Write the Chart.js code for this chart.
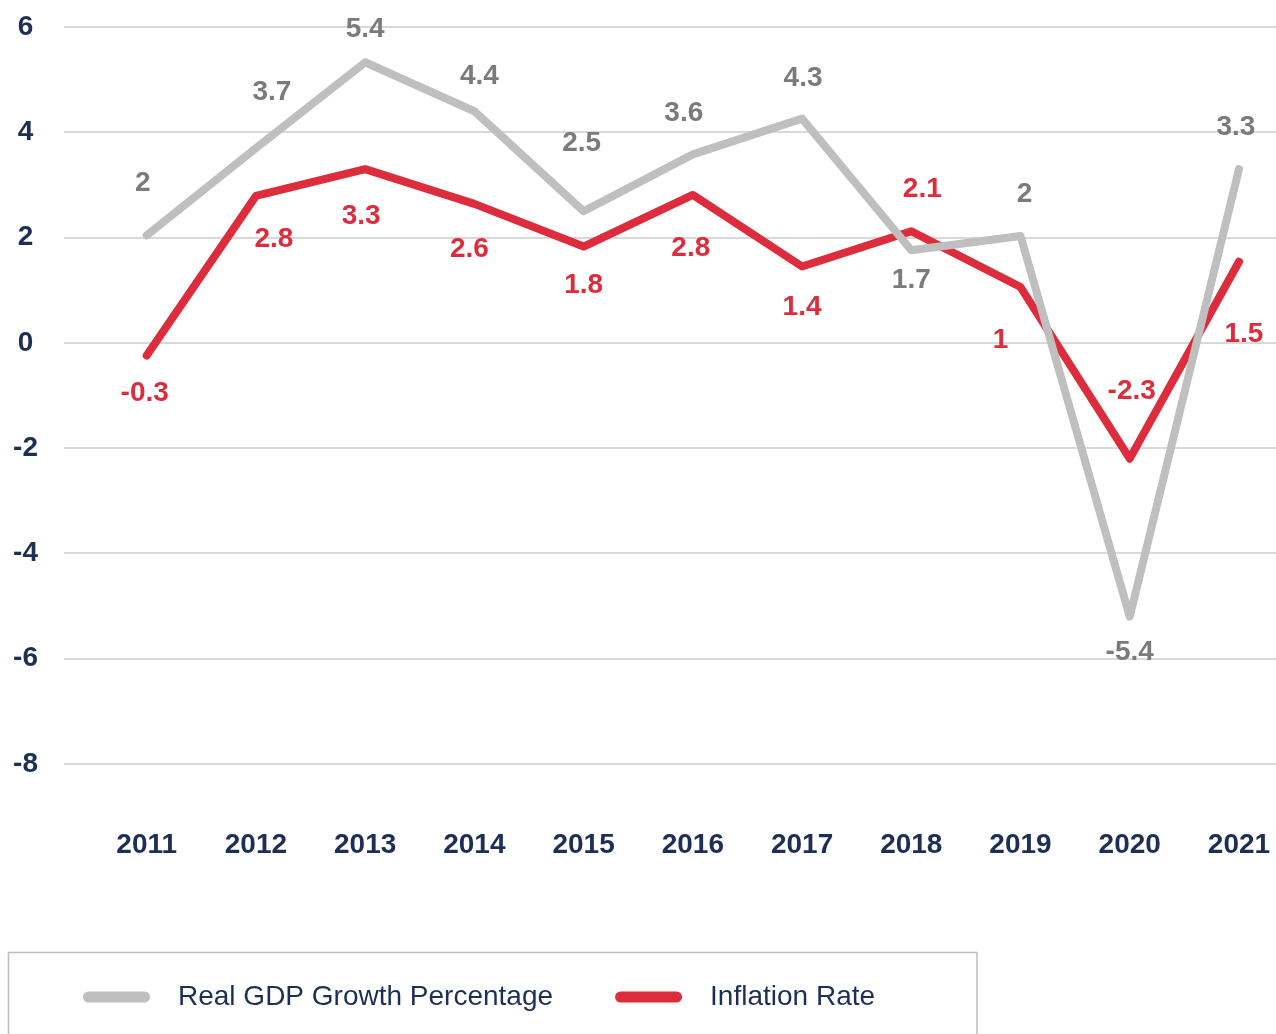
<!DOCTYPE html>
<html>
<head>
<meta charset="utf-8">
<script src="https://cdn.jsdelivr.net/npm/chart.js@4.4.1/dist/chart.umd.min.js"></script>
<style>
  html, body { margin: 0; padding: 0; background: #fff; }
  #wrap { width: 1276px; height: 1034px; }
</style>
</head>
<body>
<div id="wrap"><canvas id="gdpChart" width="1276" height="1034"></canvas></div>
<script>
// years on the x axis
const years = ['2011', '2012', '2013', '2014', '2015', '2016', '2017', '2018', '2019', '2020', '2021'];

const gdpValues = [2.04, 3.7, 5.33, 4.4, 2.5, 3.58, 4.26, 1.76, 2.03, -5.2, 3.3];
const inflationValues = [-0.24, 2.79, 3.3, 2.64, 1.83, 2.81, 1.45, 2.12, 1.06, -2.2, 1.54];

// value labels as printed on the chart
const gdpLabels = ['2', '3.7', '5.4', '4.4', '2.5', '3.6', '4.3', '1.7', '2', '-5.4', '3.3'];
const inflationLabels = ['-0.3', '2.8', '3.3', '2.6', '1.8', '2.8', '1.4', '2.1', '1', '-2.3', '1.5'];

const yTicks = [-8, -6, -4, -2, 0, 2, 4, 6];

const NAVY = '#1d2f55';
const GREY = '#bfbfbf';
const RED = '#dd2c3b';
const FONT = '"Liberation Sans", Arial, Helvetica, sans-serif';

// label nudges in px relative to each point [dx, dy]
const labelNudges = {
    0: [[-4, -52], [16, -56], [0, -33], [5, -35], [-2, -68], [-9, -41], [1, -40], [0, 30], [4, -42], [0, 36], [-3, -42]],
    1: [[-2, 38], [18, 43], [-4, 47], [-5, 45], [0, 39], [-2, 53], [0, 41], [11, -42], [-20, 53], [2, -67], [5, 72]]
};

const valueLabels = {
    id: 'valueLabels',
    afterDatasetsDraw(chart) {
        const ctx = chart.ctx;
        ctx.save();
        ctx.font = 'bold 28px ' + FONT;
        ctx.textAlign = 'center';
        ctx.textBaseline = 'middle';
        chart.data.datasets.forEach((ds, i) => {
            const meta = chart.getDatasetMeta(i);
            ctx.fillStyle = ds.labelColor;
            meta.data.forEach((pt, j) => {
                const n = labelNudges[i][j];
                ctx.fillText(ds.valueText[j], pt.x + n[0], pt.y + n[1]);
            });
        });
        ctx.restore();
    }
};

// boxed legend at the bottom left
const boxLegend = {
    id: 'boxLegend',
    afterDraw(chart) {
        const ctx = chart.ctx;
        ctx.save();
        ctx.strokeStyle = '#bdbdbd';
        ctx.lineWidth = 1.5;
        ctx.strokeRect(8.5, 952.5, 968.5, 120);

        ctx.font = '28px ' + FONT;
        ctx.textBaseline = 'middle';
        ctx.lineCap = 'round';
        ctx.lineWidth = 11;
        let x = 83;
        const y = 997;
        chart.data.datasets.forEach(ds => {
            ctx.strokeStyle = ds.borderColor;
            ctx.beginPath();
            ctx.moveTo(x + 5.5, y);
            ctx.lineTo(x + 61.5, y);
            ctx.stroke();
            x += 95;
            ctx.fillStyle = NAVY;
            ctx.fillText(ds.label, x, y);
            x += ctx.measureText(ds.label).width + 62;
        });
        ctx.restore();
    }
};

const ctx = document.getElementById('gdpChart').getContext('2d');
new Chart(ctx, {
    type: 'line',
    data: {
        datasets: [{
            label: 'Real GDP Growth Percentage',
            data: gdpValues.map((v, i) => ({ x: i, y: v })),
            valueText: gdpLabels,
            labelColor: '#7b7b7b',
            borderColor: GREY,
            backgroundColor: GREY,
            borderWidth: 8,
            borderCapStyle: 'round',
            borderJoinStyle: 'round',
            pointRadius: 0,
            tension: 0
        }, {
            label: 'Inflation Rate',
            data: inflationValues.map((v, i) => ({ x: i, y: v })),
            valueText: inflationLabels,
            labelColor: RED,
            borderColor: RED,
            backgroundColor: RED,
            borderWidth: 8,
            borderCapStyle: 'round',
            borderJoinStyle: 'round',
            pointRadius: 0,
            tension: 0
        }]
    },
    options: {
        responsive: false,
        animation: false,
        devicePixelRatio: 1,
        layout: { padding: { top: 27, right: 0, bottom: 170, left: 0 } },
        plugins: {
            legend: { display: false },
            tooltip: { enabled: false }
        },
        scales: {
            x: {
                type: 'linear',
                min: -0.757,
                max: 10.339,
                afterFit: scale => {
                    scale.height = 100;
                    scale.paddingLeft = 0;
                    scale.paddingRight = 0;
                },
                afterBuildTicks: scale => { scale.ticks = years.map((_, i) => ({ value: i })); },
                grid: { display: false, drawTicks: false },
                border: { display: false },
                ticks: {
                    padding: 64,
                    color: NAVY,
                    font: { family: FONT, size: 28, weight: 'bold' },
                    callback: v => years[v],
                    autoSkip: false,
                    maxRotation: 0
                }
            },
            y: {
                min: -8,
                max: 6,
                afterFit: scale => {
                    scale.width = 64;
                    scale.paddingTop = 0;
                    scale.paddingBottom = 0;
                },
                afterBuildTicks: scale => { scale.ticks = yTicks.map(v => ({ value: v })); },
                grid: { color: '#d9d9d9', lineWidth: 2, drawTicks: false },
                border: { display: false },
                ticks: {
                    padding: 26,
                    crossAlign: 'center',
                    color: NAVY,
                    font: { family: FONT, size: 28, weight: 'bold' }
                }
            }
        }
    },
    plugins: [valueLabels, boxLegend]
});
</script>
</body>
</html>
